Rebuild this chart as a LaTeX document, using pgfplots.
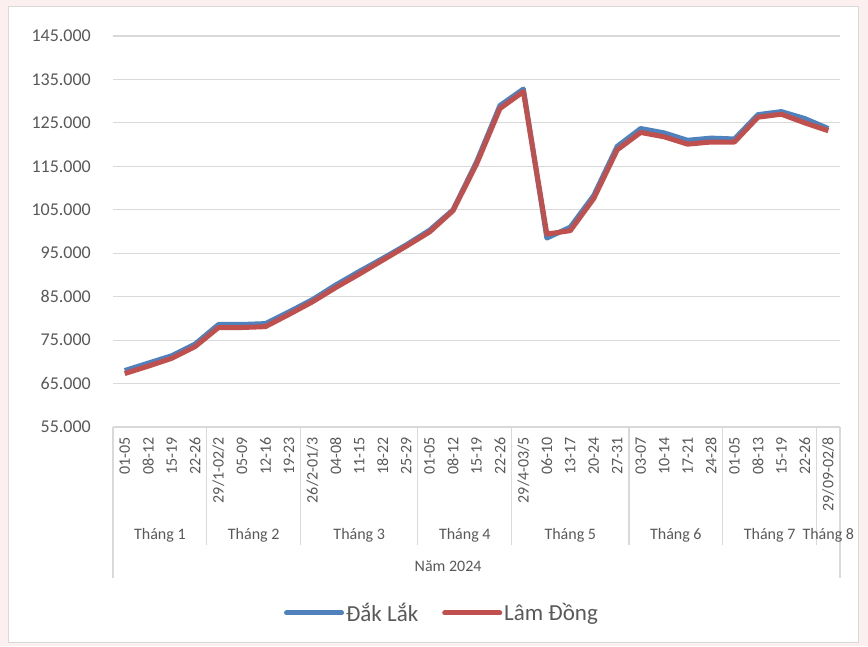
\documentclass[border=0pt]{standalone}
\usepackage{fontspec}
\setmainfont{Carlito}
\usepackage{pgfplots}
\pgfplotsset{compat=1.18}
\usepackage{pgfplotstable}
\definecolor{dlblue}{HTML}{4F81BD}
\definecolor{ldred}{HTML}{C0504D}
\definecolor{gridgray}{HTML}{D9D9D9}
\definecolor{txt}{HTML}{595959}
\definecolor{bgpink}{HTML}{FBEFEF}

\pgfplotstableread{
x dl ld
0 68000 67300
1 69700 69000
2 71400 70800
3 74100 73500
4 78600 77900
5 78600 77900
6 78800 78100
7 81500 80900
8 84300 83800
9 87700 87100
10 90800 90200
11 93800 93400
12 96900 96600
13 100300 99900
14 105000 104800
15 116000 115500
16 129000 128300
17 132800 132200
18 98500 99400
19 101000 100200
20 108300 107600
21 119600 118800
22 123700 122800
23 122700 121800
24 121000 120100
25 121500 120600
26 121300 120600
27 126900 126300
28 127600 127000
29 126000 125000
30 123700 123200
}\datatable

\begin{document}
\begin{tikzpicture}
\fill[bgpink] (0,0) rectangle (868pt,646pt);
\filldraw[fill=white, draw=gridgray, line width=1pt] (8pt,4pt) rectangle (858pt,639pt);
\useasboundingbox (0,0) rectangle (868pt,646pt);
\begin{axis}[
  at={(113pt,219pt)}, anchor=south west,
  scale only axis, width=727pt, height=391pt,
  xmin=-0.5, xmax=30.5, ymin=55000, ymax=145000,
  ytick={55000,65000,...,145000},
  xtick={0,...,30},
  xticklabels={01-05,08-12,15-19,22-26,29/1-02/2,05-09,12-16,19-23,26/2-01/3,04-08,11-15,18-22,25-29,01-05,08-12,15-19,22-26,29/4-03/5,06-10,13-17,20-24,27-31,03-07,10-14,17-21,24-28,01-05,08-13,15-19,22-26,29/09-02/8},
  ymajorgrids, grid style={gridgray, line width=1.2pt},
  axis line style={draw=none},
  major tick length=0pt,
  tick label style={text=txt},
  yticklabel style={anchor=east, inner sep=0pt, xshift=-22pt, font=\fontsize{18}{20}\selectfont},
  xticklabel style={rotate=90, anchor=east, inner sep=0pt, font=\fontsize{16}{18}\selectfont},
  xticklabel shift=10pt,
  /pgf/number format/1000 sep={.},
  /pgf/number format/fixed,
  /pgf/number format/precision=0,
  /pgf/number format/assume math mode=true,
  scaled y ticks=false,
  clip=false,
  legend columns=2,
  legend cell align=left,
  legend style={at={(0.4525,-0.4757)}, anchor=center, draw=none, fill=none,
    font=\fontsize{23}{26}\selectfont, text=txt,
    nodes={inner sep=2pt},
    /tikz/every even column/.append style={column sep=22pt}},
  legend image code/.code={\draw[#1, line cap=round] (0pt,0pt) -- (55pt,0pt);},
]
\addplot[dlblue, line width=5pt, line join=round, mark=none] table[x=x,y=dl]{\datatable};
\addlegendentry{Đắk Lắk}
\addplot[ldred, line width=5pt, line join=round, mark=none] table[x=x,y=ld]{\datatable};
\addlegendentry{Lâm Đồng}

\draw[gridgray, line width=1.2pt] (axis cs:3.5,55000) -- (axis cs:3.5,27840);
\draw[gridgray, line width=1.2pt] (axis cs:7.5,55000) -- (axis cs:7.5,27840);
\draw[gridgray, line width=1.2pt] (axis cs:12.5,55000) -- (axis cs:12.5,27840);
\draw[gridgray, line width=1.2pt] (axis cs:16.5,55000) -- (axis cs:16.5,27840);
\draw[gridgray, line width=1.2pt] (axis cs:21.5,55000) -- (axis cs:21.5,27840);
\draw[gridgray, line width=1.2pt] (axis cs:25.5,55000) -- (axis cs:25.5,27840);
\draw[gridgray, line width=1.2pt] (axis cs:29.5,55000) -- (axis cs:29.5,27840);
\draw[gridgray, line width=1.2pt] (axis cs:-0.5,55000) -- (axis cs:-0.5,20240);
\draw[gridgray, line width=1.2pt] (axis cs:30.5,55000) -- (axis cs:30.5,20240);

\node[font=\fontsize{16}{18}\selectfont, text=txt] at ([yshift=-108pt]axis cs:1.5,55000) {Tháng 1};
\node[font=\fontsize{16}{18}\selectfont, text=txt] at ([yshift=-108pt]axis cs:5.5,55000) {Tháng 2};
\node[font=\fontsize{16}{18}\selectfont, text=txt] at ([yshift=-108pt]axis cs:10,55000) {Tháng 3};
\node[font=\fontsize{16}{18}\selectfont, text=txt] at ([yshift=-108pt]axis cs:14.5,55000) {Tháng 4};
\node[font=\fontsize{16}{18}\selectfont, text=txt] at ([yshift=-108pt]axis cs:19,55000) {Tháng 5};
\node[font=\fontsize{16}{18}\selectfont, text=txt] at ([yshift=-108pt]axis cs:23.5,55000) {Tháng 6};
\node[font=\fontsize{16}{18}\selectfont, text=txt] at ([yshift=-108pt]axis cs:27.5,55000) {Tháng 7};
\node[font=\fontsize{16}{18}\selectfont, text=txt] at ([yshift=-108pt]axis cs:30,55000) {Tháng 8};
\node[font=\fontsize{16}{18}\selectfont, text=txt] at ([yshift=-139pt]axis cs:13.79,55000) {Năm 2024};
\end{axis}
\end{tikzpicture}
\end{document}
